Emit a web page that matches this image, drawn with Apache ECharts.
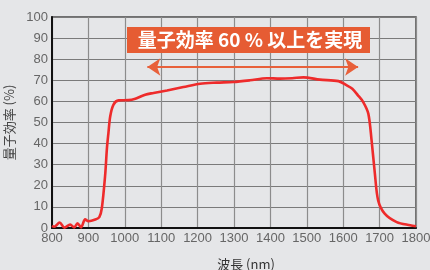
<!DOCTYPE html>
<html>
<head>
<meta charset="utf-8">
<script src="https://cdn.jsdelivr.net/npm/echarts@6/dist/echarts.min.js"></script>
<style>
  html, body { margin: 0; padding: 0; background: #e5e6e8; }
  #chart { width: 430px; height: 270px; }
</style>
</head>
<body>
<div id="chart"></div>
<script>
// wavelength (nm) and quantum efficiency (%)
var wavelengths = [800, 806, 821, 834, 850, 861, 870, 880, 891, 900, 919, 930, 937, 946, 951, 955, 960, 969, 983,
    1010, 1029, 1056, 1079, 1116, 1161, 1207, 1253, 1298, 1344, 1390, 1426, 1460, 1491, 1536, 1587, 1610, 1625,
    1640, 1655, 1669, 1678, 1687, 1696, 1714, 1747, 1784, 1800];
var efficiency = [1, 0.6, 2.6, 0.2, 1.6, 0.3, 2.2, 0.3, 4.1, 3.2, 4.0, 5.2, 9.5, 25, 38, 45, 53, 58.5, 60.5,
    60.6, 61.3, 63.2, 64.0, 65.2, 66.8, 68.4, 68.9, 69.2, 70.0, 71.0, 70.8, 71.0, 71.4, 70.3, 69.6, 67.6, 66.0,
    63.0, 59.7, 54.2, 41.5, 25.8, 13.1, 6.8, 2.8, 1.3, 0.8];
var yTicks = [0, 100, 10];
var xTicks = [800, 1800, 100];
var bannerText = '量子効率 60 % 以上を実現';
var arrowSpan = [1062, 1641];
var arrowLevel = 76.3;

var points = wavelengths.map(function (w, i) { return [w, efficiency[i]]; });

var chart = echarts.init(document.getElementById('chart'));
chart.setOption({
    backgroundColor: '#e5e6e8',
    animation: false,
    grid: {
        left: 52,
        right: 14,
        top: 17,
        bottom: 42,
        outerBoundsMode: 'none',
        show: true,
        borderColor: '#4a4a4a',
        borderWidth: 1.5,
        backgroundColor: 'transparent'
    },
    xAxis: {
        type: 'value',
        min: xTicks[0],
        max: xTicks[1],
        interval: xTicks[2],
        name: '波長 (nm)',
        nameLocation: 'middle',
        nameGap: 30,
        nameTextStyle: {
            color: '#333',
            fontSize: 13,
            fontFamily: 'Noto Sans CJK JP',
            padding: [0, 0, 0, 24]
        },
        axisLine: { lineStyle: { color: '#111', width: 2 } },
        axisTick: { show: false },
        axisLabel: {
            color: '#666',
            fontSize: 13,
            margin: 4,
            fontFamily: 'Liberation Sans',
            formatter: function (v) { return String(v); }
        },
        splitLine: { lineStyle: { color: '#8c8c8c', width: 1.2 } }
    },
    yAxis: {
        type: 'value',
        min: yTicks[0],
        max: yTicks[1],
        interval: yTicks[2],
        name: '量子効率 (%)',
        nameLocation: 'middle',
        nameGap: 33,
        nameTextStyle: {
            color: '#444',
            fontSize: 13,
            fontFamily: 'Noto Sans CJK JP'
        },
        axisLine: { show: true, lineStyle: { color: '#111', width: 2 } },
        axisTick: { show: false },
        axisLabel: {
            color: '#666',
            fontSize: 13,
            margin: 4,
            fontFamily: 'Liberation Sans'
        },
        splitLine: { lineStyle: { color: '#7a7a7a', width: 1.2 } }
    },
    series: [{
        type: 'line',
        data: points,
        smooth: 0.3,
        showSymbol: false,
        lineStyle: { color: '#ee2b2b', width: 2.6 },
        markLine: {
            silent: true,
            symbol: ['arrow', 'arrow'],
            symbolSize: [13, 13],
            label: { show: false },
            lineStyle: { color: '#e8603a', width: 2, type: 'solid' },
            data: [[
                { coord: [arrowSpan[0], arrowLevel] },
                { coord: [arrowSpan[1], arrowLevel] }
            ]]
        }
    }],
    graphic: [{
        type: 'rect',
        left: 127,
        top: 27,
        shape: { width: 243, height: 26 },
        style: { fill: '#e65c33' },
        z: 10
    }, {
        type: 'text',
        x: 250,
        y: 40,
        style: {
            text: bannerText,
            fill: '#fff',
            fontSize: 19,
            fontWeight: 'bold',
            fontFamily: 'Noto Sans CJK JP',
            align: 'center',
            verticalAlign: 'middle'
        },
        z: 11
    }]
});
</script>
</body>
</html>
